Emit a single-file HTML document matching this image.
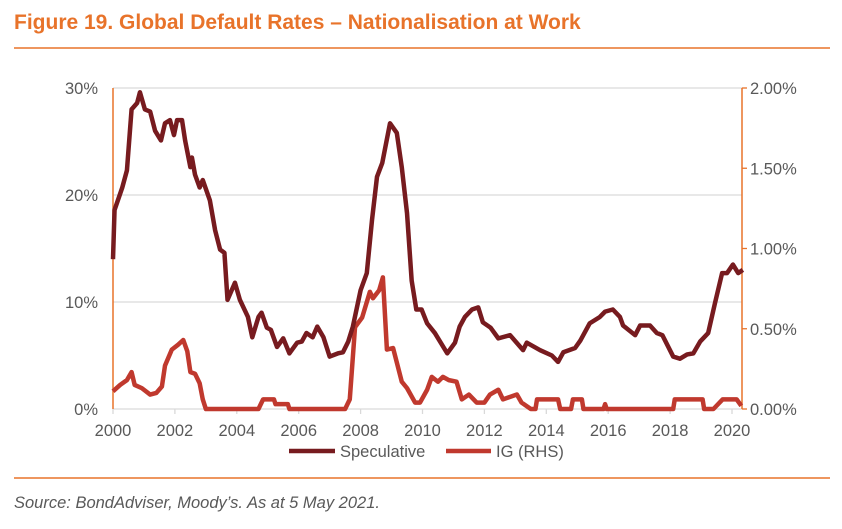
<!DOCTYPE html>
<html><head><meta charset="utf-8"><style>
body{margin:0;background:#fff;width:842px;height:524px;overflow:hidden;font-family:"Liberation Sans",sans-serif}
</style></head><body>
<svg width="842" height="524" xmlns="http://www.w3.org/2000/svg">
<text x="14" y="29" font-size="21" font-weight="bold" fill="#e8732a">Figure 19. Global Default Rates – Nationalisation at Work</text>
<line x1="14" y1="48" x2="830" y2="48" stroke="#e8732a" stroke-width="1.5"/>
<g id="grid"></g>
<g id="axes"></g>
<g id="series"></g>
<g>
<g><line x1="289" y1="451" x2="335" y2="451" stroke="#771b1f" stroke-width="4.5"/><text x="340" y="457" font-size="16.5" fill="#595959">Speculative</text></g>
<g><line x1="446" y1="451" x2="491" y2="451" stroke="#c0392e" stroke-width="4.5"/><text x="496" y="457" font-size="16.5" fill="#595959">IG (RHS)</text></g>
</g>
<line x1="14" y1="478" x2="830" y2="478" stroke="#e8732a" stroke-width="1.5"/>
<text x="14" y="508" font-size="16.5" font-style="italic" fill="#595959">Source: BondAdviser, Moody’s. As at 5 May 2021.</text>
</svg>
<script>
const specYears=[2000.0,2000.05,2000.3,2000.45,2000.6,2000.78,2000.87,2001.03,2001.2,2001.36,2001.55,2001.68,2001.84,2001.97,2002.07,2002.23,2002.33,2002.5,2002.55,2002.65,2002.8,2002.9,2003.13,2003.3,2003.46,2003.6,2003.7,2003.94,2004.1,2004.36,2004.5,2004.7,2004.8,2004.97,2005.1,2005.3,2005.5,2005.7,2005.95,2006.1,2006.25,2006.45,2006.6,2006.8,2007.0,2007.27,2007.43,2007.6,2007.75,2008.0,2008.2,2008.37,2008.53,2008.7,2008.95,2009.17,2009.33,2009.5,2009.65,2009.8,2009.97,2010.15,2010.4,2010.8,2011.05,2011.2,2011.37,2011.6,2011.8,2011.95,2012.2,2012.45,2012.83,2013.25,2013.37,2013.8,2014.18,2014.38,2014.55,2014.93,2015.1,2015.4,2015.73,2015.9,2016.15,2016.38,2016.48,2016.87,2017.03,2017.35,2017.57,2017.75,2018.1,2018.32,2018.55,2018.75,2018.97,2019.23,2019.45,2019.68,2019.84,2020.03,2020.2,2020.35];
const specValues=[14,18.6,20.7,22.3,28,28.6,29.6,28,27.8,26,25.1,26.7,27,25.6,27,27,25.1,22.6,23.5,21.9,20.7,21.4,19.5,16.7,14.9,14.6,10.2,11.8,10.2,8.6,6.7,8.6,9,7.6,7.4,5.8,6.6,5.2,6.2,6.3,7.1,6.7,7.7,6.7,4.9,5.2,5.3,6.3,7.7,11.1,12.7,17.7,21.7,23,26.7,25.8,22.6,18.3,12,9.3,9.3,8,7.1,5.2,6.2,7.7,8.6,9.3,9.5,8.1,7.6,6.6,6.9,5.5,6.2,5.5,5,4.4,5.3,5.7,6.4,8,8.6,9.1,9.3,8.6,7.8,6.9,7.8,7.8,7.1,6.9,4.9,4.7,5.1,5.2,6.3,7.1,9.9,12.7,12.7,13.5,12.7,13];
const igYears=[2000.0,2000.23,2000.45,2000.6,2000.7,2000.93,2001.2,2001.4,2001.58,2001.68,2001.9,2002.1,2002.27,2002.4,2002.5,2002.65,2002.8,2002.9,2003.0,2004.7,2004.85,2005.2,2005.25,2005.65,2005.7,2007.5,2007.65,2007.82,2008.05,2008.3,2008.4,2008.6,2008.72,2008.85,2009.05,2009.33,2009.5,2009.76,2009.92,2010.15,2010.3,2010.5,2010.66,2010.85,2011.1,2011.27,2011.5,2011.75,2012.0,2012.18,2012.45,2012.6,2013.05,2013.2,2013.5,2013.65,2013.7,2014.38,2014.45,2014.8,2014.86,2015.15,2015.2,2015.85,2015.9,2015.95,2018.1,2018.15,2019.05,2019.1,2019.4,2019.7,2020.15,2020.3];
const igValues=[0.11,0.15,0.18,0.23,0.15,0.13,0.09,0.1,0.14,0.27,0.37,0.4,0.43,0.36,0.23,0.22,0.16,0.06,0,0,0.06,0.06,0.03,0.03,0,0,0.06,0.51,0.57,0.73,0.69,0.74,0.82,0.37,0.38,0.17,0.13,0.04,0.04,0.12,0.2,0.17,0.2,0.18,0.17,0.06,0.09,0.04,0.04,0.09,0.12,0.06,0.09,0.04,0,0,0.06,0.06,0,0,0.06,0.06,0,0,0.03,0,0,0.06,0.06,0,0,0.06,0.06,0.02];
const xTicks=[2000,2002,2004,2006,2008,2010,2012,2014,2016,2018,2020];
const yLeftTicks=[0,10,20,30];
const yRightTicks=[0,0.5,1,1.5,2];
const NS='http://www.w3.org/2000/svg';
const X0=113,X1=732,Y0=409,Y1=88;
const x=v=>X0+(v-2000)/20*(X1-X0);
const yL=v=>Y0-v/30*(Y0-Y1);
const yR=v=>Y0-v/2*(Y0-Y1);
function mk(tag,at,parent){const e=document.createElementNS(NS,tag);for(const k in at)e.setAttribute(k,at[k]);document.getElementById(parent).appendChild(e);return e;}
yLeftTicks.forEach(t=>{if(t>0){const g=mk('line',{x1:X0,x2:742,y1:yL(t),y2:yL(t),stroke:'#d9d9d9','stroke-width':1.3},'grid');

}
const l=mk('text',{x:98,y:yL(t)+6,'text-anchor':'end','font-size':16.5,fill:'#595959'},'axes');l.textContent=t+'%';

});
yRightTicks.forEach(t=>{const tk=mk('line',{x1:742,x2:747,y1:yR(t),y2:yR(t),stroke:'#e8732a','stroke-width':1.3},'axes');


const l=mk('text',{x:750,y:yR(t)+6,'font-size':16.5,fill:'#595959'},'axes');l.textContent=t.toFixed(2)+'%';

});
const xa=mk('line',{x1:X0,x2:742,y1:Y0,y2:Y0,stroke:'#d9d9d9','stroke-width':1.3},'axes');


xTicks.forEach(t=>{const tk=mk('line',{x1:x(t),x2:x(t),y1:Y0,y2:Y0+5,stroke:'#d9d9d9','stroke-width':1.3},'axes');


const l=mk('text',{x:x(t),y:436,'text-anchor':'middle','font-size':16.5,fill:'#595959'},'axes');l.textContent=t;

});
const la=mk('line',{x1:X0,x2:X0,y1:Y1,y2:Y0,stroke:'#e8732a','stroke-width':1.5},'axes');


const ra=mk('line',{x1:742,x2:742,y1:Y1,y2:Y0,stroke:'#e8732a','stroke-width':1.5},'axes');


const ig=mk('polyline',{points:igYears.map((v,i)=>x(v)+','+yR(igValues[i])).join(' '),fill:'none',stroke:'#c0392e','stroke-width':4.5,'stroke-linejoin':'round'},'series');


const sp=mk('polyline',{points:specYears.map((v,i)=>x(v)+','+yL(specValues[i])).join(' '),fill:'none',stroke:'#771b1f','stroke-width':4.5,'stroke-linejoin':'round'},'series');


</script>
</body></html>
